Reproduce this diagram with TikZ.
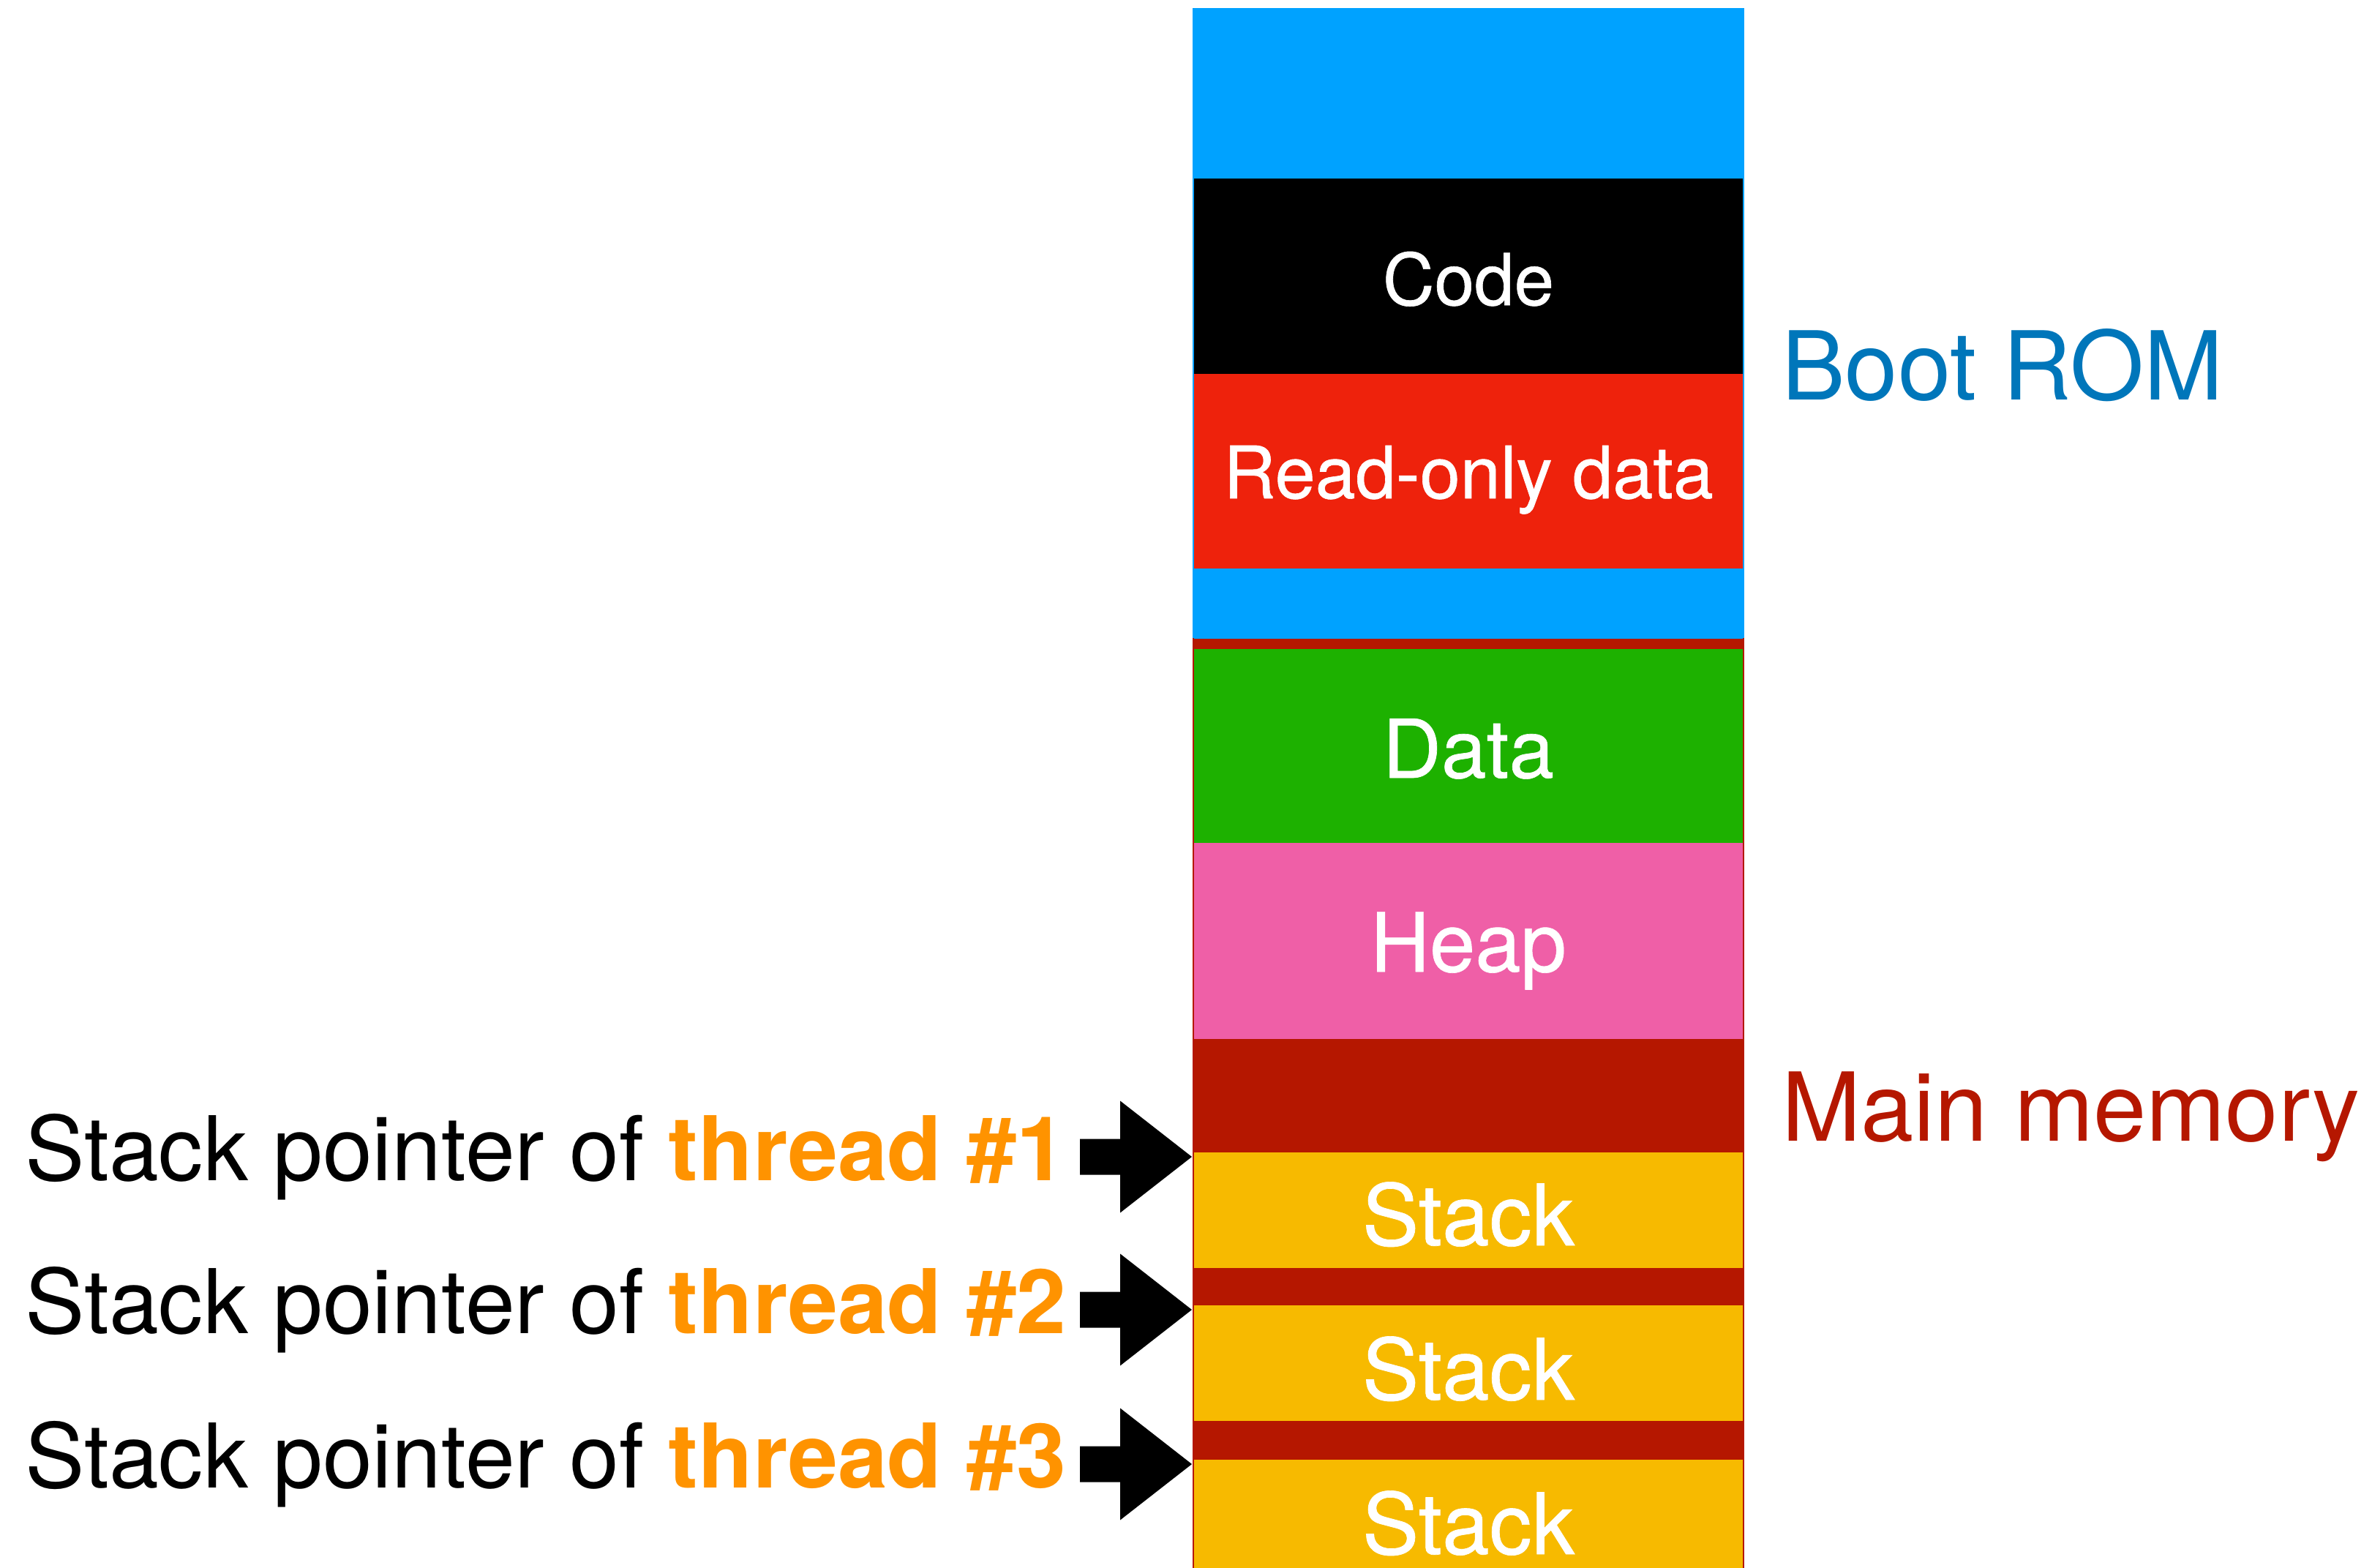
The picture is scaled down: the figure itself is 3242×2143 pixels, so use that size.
\documentclass[tikz,border=0pt]{standalone}
\usepackage{fontspec}
\setmainfont{TeX Gyre Heros}
\newfontfamily\colfont[FakeBold=0.6]{TeX Gyre Heros}
\definecolor{romblue}{HTML}{00A2FF}
\definecolor{codeblack}{HTML}{000000}
\definecolor{rodred}{HTML}{EE220C}
\definecolor{memred}{HTML}{B51700}
\definecolor{datagreen}{HTML}{1DB100}
\definecolor{heappink}{HTML}{EF5FA7}
\definecolor{stackyellow}{HTML}{F7BA00}
\definecolor{labelblue}{HTML}{0076BA}
\definecolor{threadorange}{HTML}{FF9300}
\begin{document}
\begin{tikzpicture}[x=1pt,y=-1pt,
  coltext/.style={inner sep=0pt, anchor=base, text=white},
  sidetext/.style={inner sep=0pt, anchor=base west},
  ptrtext/.style={inner sep=0pt, anchor=base west, font=\fontsize{122}{140}\selectfont},
  blockarrow/.style={fill=black}]
\useasboundingbox (0,0) rectangle (3242,2143);
% bands
\fill[romblue] (1631,12) rectangle (2383,244);
\fill[codeblack] (1631,244) rectangle (2383,511);
\fill[rodred] (1631,511) rectangle (2383,777);
\fill[romblue] (1631,777) rectangle (2383,872);
\fill[memred] (1631,872) rectangle (2383,887);
\fill[datagreen] (1631,887) rectangle (2383,1152);
\fill[heappink] (1631,1152) rectangle (2383,1420);
\fill[memred] (1631,1420) rectangle (2383,1575);
\fill[stackyellow] (1631,1575) rectangle (2383,1733);
\fill[memred] (1631,1733) rectangle (2383,1784);
\fill[stackyellow] (1631,1784) rectangle (2383,1942);
\fill[memred] (1631,1942) rectangle (2383,1995);
\fill[stackyellow] (1631,1995) rectangle (2383,2143);
\draw[romblue, line width=2pt] (1631,12) rectangle (2383,872);
\draw[memred, line width=2pt] (1631,872) -- (1631,2143) (2383,872) -- (2383,2143);
% column texts
\node[coltext, font=\colfont\fontsize{98}{110}\selectfont] (code) at (2007,417) {Code};
\node[coltext, font=\colfont\fontsize{99}{110}\selectfont] (rodata) at (2007,681) {Read-only data};
\node[coltext, font=\colfont\fontsize{111}{125}\selectfont] (data) at (2007,1063) {Data};
\node[coltext, font=\colfont\fontsize{112}{125}\selectfont] (heap) at (2007,1328) {Heap};
\node[coltext, font=\colfont\fontsize{116}{130}\selectfont] (stack1) at (2007,1702) {Stack};
\node[coltext, font=\colfont\fontsize{116}{130}\selectfont] (stack2) at (2007,1913) {Stack};
\node[coltext, font=\colfont\fontsize{116}{130}\selectfont] (stack3) at (2007,2124) {Stack};
% side labels
\node[sidetext, text=labelblue, font=\fontsize{130}{150}\selectfont] (bootrom) at (2435,546) {Boot ROM};
\node[sidetext, text=memred, font=\fontsize{130}{150}\selectfont] (mainmem) at (2435,1559) {Main memory};
% pointer labels
\node[ptrtext] (sp1) at (34,1613) {Stack pointer of \textcolor{threadorange}{\bfseries thread \#1}};
\node[ptrtext] (sp2) at (34,1822) {Stack pointer of \textcolor{threadorange}{\bfseries thread \#2}};
\node[ptrtext] (sp3) at (34,2033) {Stack pointer of \textcolor{threadorange}{\bfseries thread \#3}};
% arrow tips
\coordinate (tip1) at (1629,1581);
\coordinate (tip2) at (1629,1790);
\coordinate (tip3) at (1629,2001);
\foreach \t in {tip1,tip2,tip3}{
  \fill[blockarrow] (\t) -- ++(-98,-76.5) -- ++(0,52) -- ++(-55,0) -- ++(0,49) -- ++(55,0) -- ++(0,52) -- cycle;
}
\end{tikzpicture}
\end{document}
